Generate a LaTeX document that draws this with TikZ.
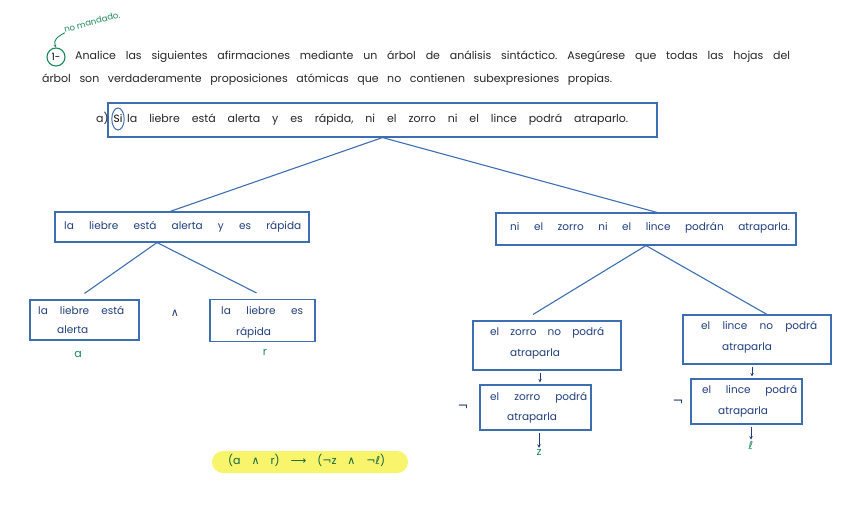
\documentclass[tikz,border=0pt]{standalone}
\usepackage{fontspec}
\setmainfont{Poppins}
\newfontfamily\symf{DejaVu Sans}
\usetikzlibrary{shapes.geometric,arrows.meta}
\definecolor{boxblue}{RGB}{62,110,178}
\definecolor{txtblue}{RGB}{32,62,125}
\definecolor{grn}{RGB}{28,135,88}
\definecolor{hl}{RGB}{248,244,108}
\newcommand{\jl}[2]{\hbox to #1{#2}}
\newcommand{\sy}[1]{{\symf #1}}
\frenchspacing
\begin{document}
\begin{tikzpicture}[x=1pt,y=-1pt,
  box/.style={draw=boxblue,line width=1.1pt,inner sep=0pt},
  btxt/.style={text=txtblue,font=\fontsize{10.5}{12}\selectfont,inner sep=0pt,anchor=mid west},
  htxt/.style={text=black!85,font=\fontsize{11}{12}\selectfont,inner sep=0pt,anchor=mid west},
  gtxt/.style={text=grn,font=\fontsize{11}{12}\selectfont,inner sep=0pt},
  symb/.style={text=txtblue,inner sep=0pt,font=\symf\fontsize{11}{12}\selectfont},
  tree/.style={draw=boxblue,line width=1.1pt},
  arr/.style={draw=txtblue,line width=0.8pt,-{Stealth[length=3.5pt,width=3.5pt]}}]
\useasboundingbox (0,0) rectangle (848,530);

% header
\node[circle,draw=grn,line width=1.1pt,minimum size=18pt,inner sep=0pt,font=\fontsize{10}{10}\selectfont] (ci) at (56,57) {1-};
\node[gtxt,font=\fontsize{8.5}{9}\selectfont,rotate=15] (nm) at (92,22) {no mandado.};
\draw[grn,line width=0.9pt,-{Stealth[length=3pt,width=3pt]}] (nm.south west) .. controls +(-8,4) and +(-3,-7) .. (ci.north);
\node[htxt] (h1) at (75,57) {\jl{715pt}{Analice las siguientes afirmaciones mediante un árbol de análisis sintáctico. Asegúrese que todas las hojas del}};
\node[htxt] (h2) at (42,80) {\jl{570pt}{árbol son verdaderamente proposiciones atómicas que no contienen subexpresiones propias.}};

% main box
\node[box,minimum width=549pt,minimum height=34pt] (main) at (382.5,120) {};
\node[htxt] (aa) at (96,120) {a)};
\node[ellipse,draw=boxblue,line width=1pt,minimum width=11pt,minimum height=22pt,inner sep=0pt,font=\fontsize{10.5}{10}\selectfont] (si) at (118,119) {Si};
\node[htxt] (mt) at (127,120) {\jl{501pt}{la liebre está alerta y es rápida, ni el zorro ni el lince podrá atraparlo.}};

% second level
\node[box,minimum width=254pt,minimum height=30pt] (lb) at (182,227) {};
\node[btxt] (lbt) at (64,227) {\jl{237pt}{la liebre está alerta y es rápida}};
\node[box,minimum width=300pt,minimum height=32pt] (rb) at (646,229) {};
\node[btxt] (rbt) at (510,228) {\jl{280pt}{ni el zorro ni el lince podrán atraparla.}};

\draw[tree] (main.south) -- ([xshift=-12pt]lb.north);
\draw[tree] (main.south) -- ([xshift=11pt]rb.north);

% left leaves
\node[box,minimum width=109pt,minimum height=40pt] (ll) at (84.5,320) {};
\node[btxt] at (38,312) {\jl{86pt}{la liebre está}};
\node[btxt] at (57,331) {alerta};
\node[box,minimum width=105pt,minimum height=42pt] (rl) at (262.5,320.5) {};
\node[btxt] at (221,312) {\jl{82pt}{la liebre es}};
\node[btxt] at (236,333) {rápida};
\node[symb] (and) at (175,313) {∧};
\draw[tree] ([xshift=-25pt]lb.south) -- ([yshift=6pt]ll.north);
\draw[tree] ([xshift=-25pt]lb.south) -- ([xshift=-6pt,yshift=6pt]rl.north);
\node[gtxt] (la) at (78,354) {a};
\node[gtxt] (lr) at (265,352) {r};

% right subtree
\node[box,minimum width=148pt,minimum height=49pt] (z1) at (547,345.5) {};
\node[btxt] at (490,333) {\jl{114pt}{el zorro no podrá}};
\node[btxt] at (510,354) {atraparla};
\node[box,minimum width=111pt,minimum height=45pt] (z2) at (535.5,407.5) {};
\node[btxt] at (490,398) {\jl{97pt}{el zorro podrá}};
\node[btxt] at (507,418) {atraparla};
\node[box,minimum width=148pt,minimum height=49pt] (l1) at (757,339.5) {};
\node[btxt] at (701,327) {\jl{116pt}{el lince no podrá}};
\node[btxt] at (722,348) {atraparla};
\node[box,minimum width=111pt,minimum height=45pt] (l2) at (746.5,401.5) {};
\node[btxt] at (702,391) {\jl{95pt}{el lince podrá}};
\node[btxt] at (718,412) {atraparla};

\draw[tree] (rb.south) -- ([xshift=-14pt,yshift=6pt]z1.north);
\draw[tree] (rb.south) -- ([xshift=10pt]l1.north);

\coordinate (ax1) at (540,0);
\coordinate (ax2) at (752,0);
\node[gtxt] (zl) at (539,452) {z};
\node[gtxt,font=\symf\fontsize{11}{12}\selectfont] (ll2) at (751,445) {ℓ};
\draw[arr,shorten <=2pt,shorten >=2pt] (z1.south -| ax1) -- (z2.north -| ax1);
\draw[arr,shorten <=2pt,shorten >=1pt] (z2.south -| zl) -- (zl.north);
\draw[arr,shorten <=2pt,shorten >=2pt] (l1.south -| ax2) -- (l2.north -| ax2);
\draw[arr,shorten <=2pt,shorten >=1pt] (l2.south -| ll2) -- (ll2.north);
\node[symb,font=\symf\fontsize{13}{14}\selectfont] (n1) at (463,408) {¬};
\node[symb,font=\symf\fontsize{13}{14}\selectfont] (n2) at (678,403) {¬};

% formula
\node[fill=hl,rounded corners=11pt,minimum width=196pt,minimum height=22pt,inner sep=0pt] (hlb) at (310,462) {};
\node[gtxt,text=grn!75!black,anchor=mid west] (fm) at (228,462) {\jl{157pt}{(a \sy{∧} r) \sy{⟶} (\sy{¬}z \sy{∧} \sy{¬ℓ})}};
\end{tikzpicture}
\end{document}
